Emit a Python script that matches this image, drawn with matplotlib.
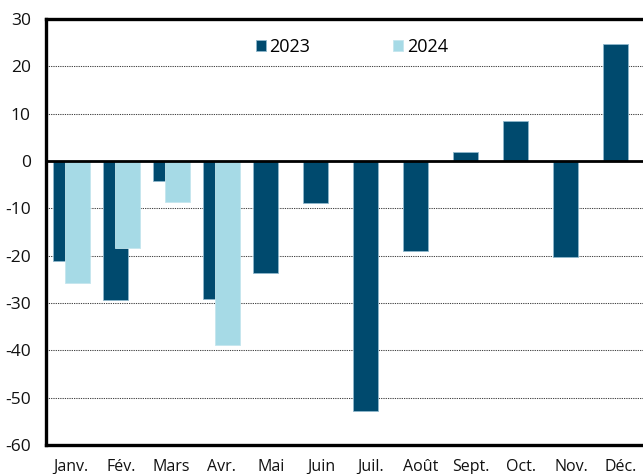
import matplotlib
matplotlib.use("Agg")
import matplotlib.pyplot as plt
import numpy as np

months = ["Janv.", "Fév.", "Mars", "Avr.", "Mai", "Juin", "Juil.", "Août",
          "Sept.", "Oct.", "Nov.", "Déc."]
v2023 = [-21.2, -29.3, -4.3, -29.1, -23.6, -8.9, -52.9, -19.0, 1.8, 8.4, -20.3, 24.7]
v2024 = [-25.8, -18.3, -8.7, -38.9]
yticks = [-60, -50, -40, -30, -20, -10, 0, 10, 20, 30]

c2023 = "#004a6e"
c2024 = "#a6dae6"

plt.rcParams['font.family'] = ['Open Sans', 'DejaVu Sans']

fig = plt.figure(figsize=(6.43, 4.74), dpi=100)
ax = fig.add_axes([46/643, 29/474, 600/643, 426/474])

x = np.arange(len(months))
w = 0.49
ax.bar(x - 0.107, v2023, width=w, color=c2023, edgecolor="#8fb8cc", linewidth=0.6,
       label="2023", zorder=3)
ax.bar(np.arange(len(v2024)) + 0.133, v2024, width=w, color=c2024, edgecolor="#c4e6ee",
       linewidth=0.6, label="2024", zorder=4)

ax.set_xlim(-0.5, 11.5)
ax.set_ylim(-60, 30)
ax.set_yticks(yticks)
ax.set_yticklabels([str(t) for t in yticks])
ax.set_xticks(x)
ax.set_xticklabels(months)
ax.tick_params(axis="both", length=0, colors="#111111")
ax.tick_params(axis="y", pad=11, labelsize=12.5)
ax.tick_params(axis="x", pad=10, labelsize=11.5)

for t in [-50, -40, -30, -20, -10, 10, 20]:
    ax.axhline(t, color="#444444", linewidth=0.75, linestyle=(0, (1.2, 1.0)), zorder=1)
ax.axhline(0, color="black", linewidth=2.0, zorder=5)

for s in ["top", "left", "bottom"]:
    ax.spines[s].set_linewidth(2.4)
    ax.spines[s].set_color("black")
ax.spines["right"].set_visible(False)

leg = ax.legend(loc="upper center", bbox_to_anchor=(0.51, 0.993), ncol=2, frameon=False,
                fontsize=13, handlelength=0.55, handleheight=0.55, handletextpad=0.2,
                columnspacing=4.6)

fig.savefig("out.png", dpi=100)
